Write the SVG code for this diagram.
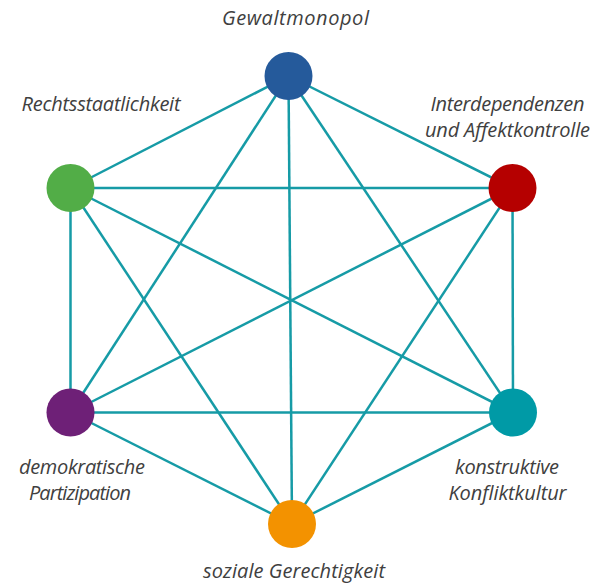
<svg xmlns="http://www.w3.org/2000/svg" width="596" height="584" viewBox="0 0 596 584">
<style>
.e{stroke:#169ba6;stroke-width:2.5;fill:none}
.t{font-family:"Open Sans","Noto Sans",sans-serif;font-style:italic;font-size:20px;fill:#404040;text-anchor:middle}
</style>
<rect width="596" height="584" fill="#fff"/>
<g id="connectors">
<line class="e" x1="288.5" y1="76" x2="512.5" y2="188"/>
<line class="e" x1="288.5" y1="76" x2="513" y2="412.5"/>
<line class="e" x1="288.5" y1="76" x2="292" y2="524"/>
<line class="e" x1="288.5" y1="76" x2="70.5" y2="412.5"/>
<line class="e" x1="288.5" y1="76" x2="70.5" y2="188"/>
<line class="e" x1="512.5" y1="188" x2="513" y2="412.5"/>
<line class="e" x1="512.5" y1="188" x2="292" y2="524"/>
<line class="e" x1="512.5" y1="188" x2="70.5" y2="412.5"/>
<line class="e" x1="512.5" y1="188" x2="70.5" y2="188"/>
<line class="e" x1="513" y1="412.5" x2="292" y2="524"/>
<line class="e" x1="513" y1="412.5" x2="70.5" y2="412.5"/>
<line class="e" x1="513" y1="412.5" x2="70.5" y2="188"/>
<line class="e" x1="292" y1="524" x2="70.5" y2="412.5"/>
<line class="e" x1="292" y1="524" x2="70.5" y2="188"/>
<line class="e" x1="70.5" y1="412.5" x2="70.5" y2="188"/>
</g>
<g id="gewaltmonopol">
<circle cx="288.5" cy="76" r="24" fill="#255a9b"/>
<text class="t" x="295.5" y="25" textLength="147" lengthAdjust="spacing">Gewaltmonopol</text>
</g>
<g id="interdependenzen">
<circle cx="512.5" cy="188" r="24" fill="#b50000"/>
<text class="t" x="507.5" y="111" textLength="154" lengthAdjust="spacing">Interdependenzen</text>
<text class="t" x="507.5" y="137" textLength="165" lengthAdjust="spacing">und Affektkontrolle</text>
</g>
<g id="konstruktive">
<circle cx="513" cy="412.5" r="24" fill="#009aa6"/>
<text class="t" x="507" y="474" textLength="104" lengthAdjust="spacing">konstruktive</text>
<text class="t" x="507.5" y="500" textLength="118" lengthAdjust="spacing">Konfliktkultur</text>
</g>
<g id="soziale">
<circle cx="292" cy="524" r="24" fill="#f39200"/>
<text class="t" x="294" y="578" textLength="182" lengthAdjust="spacing">soziale Gerechtigkeit</text>
</g>
<g id="demokratische">
<circle cx="70.5" cy="412.5" r="24" fill="#6e2077"/>
<text class="t" x="82" y="474" textLength="126" lengthAdjust="spacing">demokratische</text>
<text class="t" x="80" y="500" textLength="102" lengthAdjust="spacing">Partizipation</text>
</g>
<g id="rechtsstaatlichkeit">
<circle cx="70.5" cy="188" r="24" fill="#52ad47"/>
<text class="t" x="101" y="111" textLength="159" lengthAdjust="spacing">Rechtsstaatlichkeit</text>
</g>
</svg>
